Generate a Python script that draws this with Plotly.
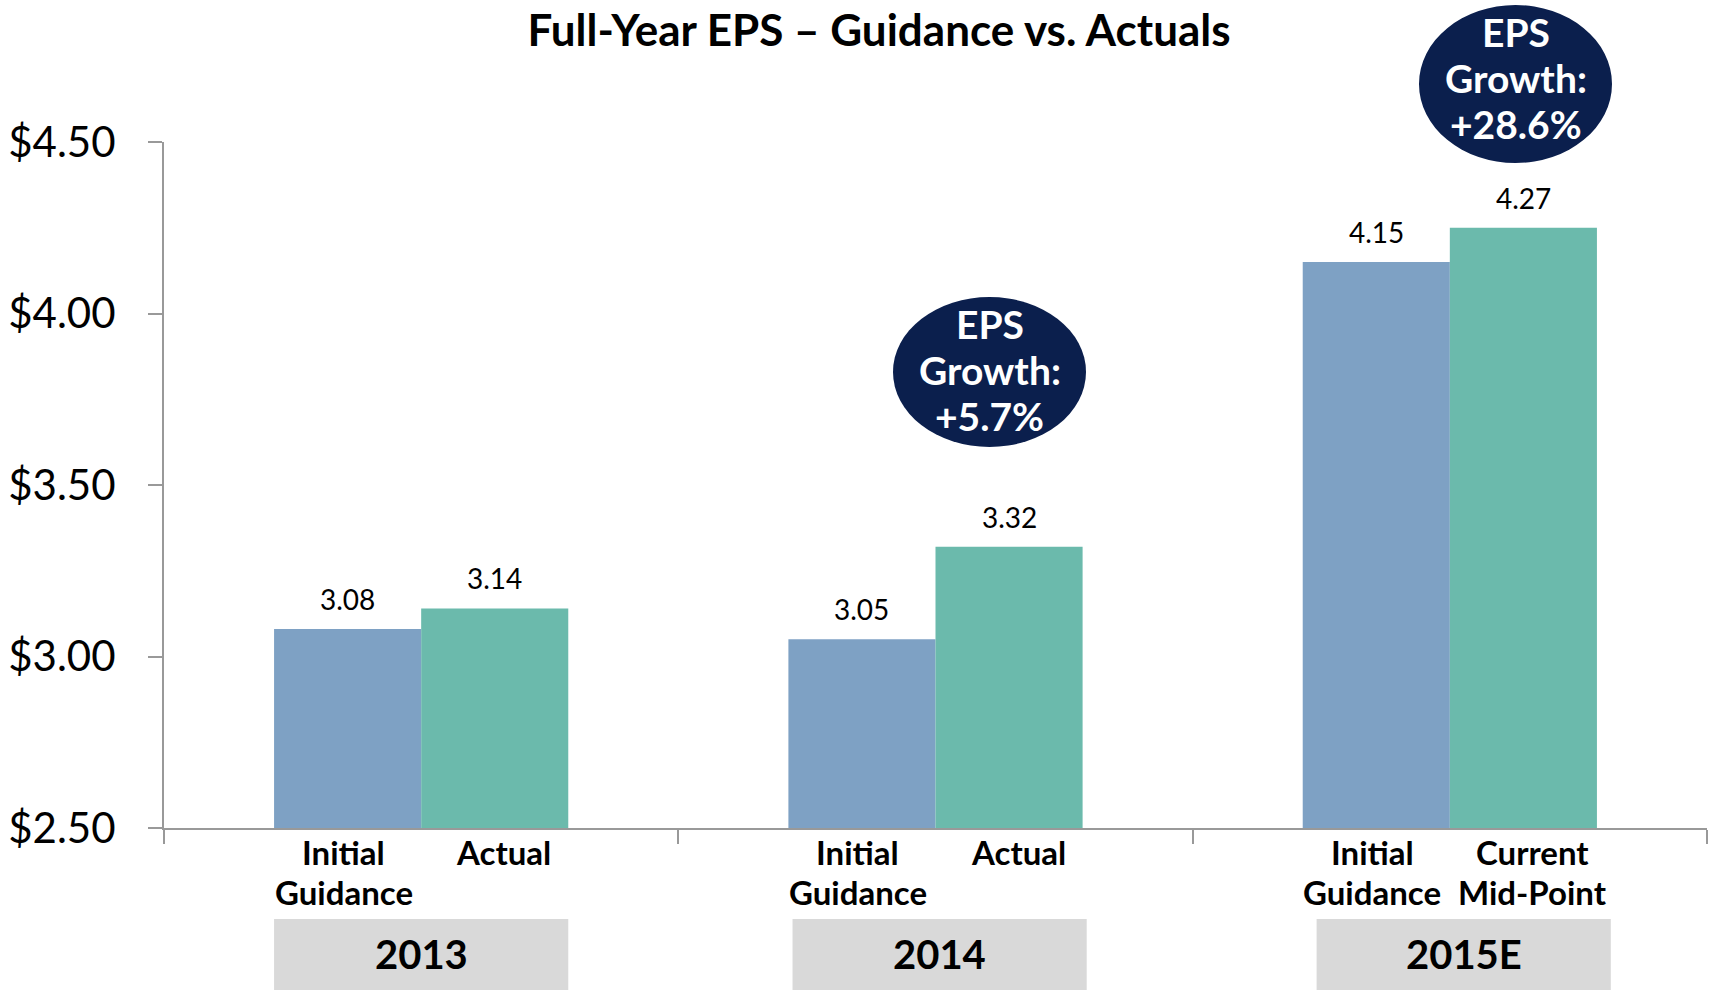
import plotly.graph_objects as go

years = ["2013", "2014", "2015E"]
guidance = [3.08, 3.05, 4.15]
actual = [3.14, 3.32, 4.25]
guidance_labels = ["3.08", "3.05", "4.15"]
actual_labels = ["3.14", "3.32", "4.27"]
sub_left = [["Initial", "Guidance"], ["Initial", "Guidance"], ["Initial", "Guidance"]]
sub_right = [["Actual"], ["Actual"], ["Current", "Mid-Point"]]
growth_texts = [["EPS", "Growth:", "+5.7%"], ["EPS", "Growth:", "+28.6%"]]
y_ticks = [2.5, 3.0, 3.5, 4.0, 4.5]
y_tick_labels = ["$2.50", "$3.00", "$3.50", "$4.00", "$4.50"]

BLUE = "#7ea1c4"
GREEN = "#6bbaac"
NAVY = "#0b1f4d"
FONT = "Lato"

FW, FH = 1710, 990
PX0, PX1, PY0, PY1 = 164, 1707, 142, 828  # plot area in pixels
L, R, T, B = PX0, FW - PX1, PY0, FH - PY1
PW, PH = PX1 - PX0, PY1 - PY0
BARGAP = 0.428
BW = (1 - BARGAP) / 2
BOX_SHIFT = [0.0, 0.008, 0.027]


def px_x(p):
    return (p - PX0) / PW


def px_y(p):
    return (PY1 - p) / PH


fig = go.Figure()
fig.add_trace(go.Bar(x=years, y=guidance, marker=dict(color=BLUE, line=dict(width=0)), name="Initial Guidance",
                     hoverinfo="skip"))
fig.add_trace(go.Bar(x=years, y=actual, marker=dict(color=GREEN, line=dict(width=0)), name="Actual",
                     hoverinfo="skip"))

ann = []
shapes = []
SUB_LINE1, SUB_SPACING = 852, 40
for i, yr in enumerate(years):
    xl, xr = i - BW / 2, i + BW / 2
    ann.append(dict(x=xl, y=guidance[i], xref="x", yref="y", text=guidance_labels[i], showarrow=False,
                    yanchor="middle", yshift=30, font=dict(family=FONT, size=28, color="black")))
    ann.append(dict(x=xr, y=actual[i], xref="x", yref="y", text=actual_labels[i], showarrow=False,
                    yanchor="middle", yshift=30, font=dict(family=FONT, size=28, color="black")))
    for xpos, lines, dx in ((xl, sub_left[i], -4), (xr, sub_right[i], 9)):
        for k, line in enumerate(lines):
            ann.append(dict(x=xpos, y=px_y(SUB_LINE1 + k * SUB_SPACING), xref="x", yref="paper",
                            text="<b>" + line + "</b>", showarrow=False, yanchor="middle", xshift=dx,
                            font=dict(family=FONT, size=33, color="black")))
    c = i + BOX_SHIFT[i]
    shapes.append(dict(type="rect", xref="x", yref="paper", x0=c - BW, x1=c + BW,
                       y0=px_y(992), y1=px_y(919), fillcolor="#d9d9d9", line=dict(width=0), layer="above"))
    ann.append(dict(x=c, y=px_y(954), xref="x", yref="paper", text="<b>" + yr + "</b>", showarrow=False,
                    yanchor="middle", font=dict(family=FONT, size=40, color="black")))

ellipses = [(893, 1086, 297, 447), (1419, 1612, 5, 163)]
text_dy = [-2, -6]
for (x0, x1, y0, y1), lines, dy in zip(ellipses, growth_texts, text_dy):
    shapes.append(dict(type="circle", xref="paper", yref="paper", x0=px_x(x0), x1=px_x(x1),
                       y0=px_y(y1), y1=px_y(y0), fillcolor=NAVY, line=dict(width=0), layer="above"))
    cy = (y0 + y1) / 2 + dy
    for k, line in enumerate(lines):
        ann.append(dict(x=px_x((x0 + x1) / 2), y=px_y(cy + (k - 1) * 46), xref="paper", yref="paper",
                        text="<b>" + line + "</b>", showarrow=False, xanchor="center", yanchor="middle",
                        font=dict(family=FONT, size=39, color="white")))

fig.update_layout(
    width=FW, height=FH,
    margin=dict(l=L, r=R, t=T, b=B, pad=0),
    paper_bgcolor="white", plot_bgcolor="white",
    barmode="group", bargap=BARGAP, bargroupgap=0,
    showlegend=False,
    title=dict(text="<b>Full-Year EPS \u2013 Guidance vs. Actuals</b>", x=879 / FW,
               xanchor="center", y=1 - 31 / FH, yanchor="middle",
               font=dict(family=FONT, size=44, color="black")),
    annotations=ann, shapes=shapes,
    font=dict(family=FONT),
)
fig.update_xaxes(showticklabels=False, showline=True, linecolor="#999999", linewidth=2,
                 ticks="outside", tickson="boundaries", ticklen=14, tickcolor="#999999", tickwidth=2,
                 showgrid=False, zeroline=False)
fig.update_yaxes(range=[2.5, 4.5], tickmode="array", tickvals=y_ticks, ticktext=y_tick_labels,
                 showline=True, linecolor="#999999", linewidth=2, ticks="outside", ticklen=14,
                 tickcolor="#999999", tickwidth=2, showgrid=False, zeroline=False,
                 ticklabelstandoff=24, tickfont=dict(family=FONT, size=42, color="black"))

fig.write_html("out.html", config={"displayModeBar": False},
               post_script="document.body.style.margin='0px';document.body.style.overflow='hidden';")
